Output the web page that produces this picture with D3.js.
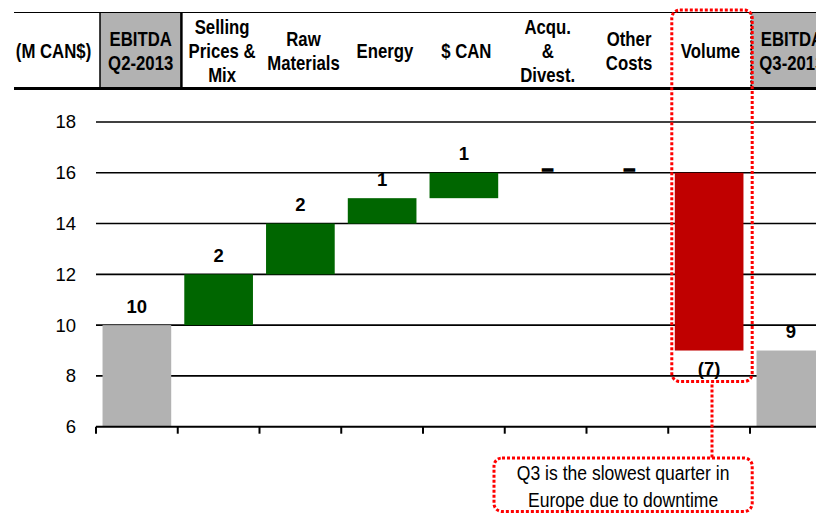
<!DOCTYPE html>
<html>
<head>
<meta charset="utf-8">
<script src="https://cdn.jsdelivr.net/npm/d3@7"></script>
<style>
  html, body { margin: 0; padding: 0; background: #ffffff; }
  svg { display: block; font-family: "Liberation Sans", Arial, sans-serif; }
</style>
</head>
<body>
<svg id="chart" width="816" height="514"></svg>
<script>
// EBITDA bridge, Q2-2013 to Q3-2013 (M CAN$)
const categories = ["q2", "prices", "raw", "energy", "fx", "acq", "other", "volume", "q3"];
const headerLabels = [
  ["EBITDA", "Q2-2013"],
  ["Selling", "Prices &", "Mix"],
  ["Raw", "Materials"],
  ["Energy"],
  ["$ CAN"],
  ["Acqu.", "&", "Divest."],
  ["Other", "Costs"],
  ["Volume"],
  ["EBITDA", "Q3-2013"]
];
const values = [10, 2, 2, 1, 1, 0, 0, -7, 9];
const isTotal = [true, false, false, false, false, false, false, false, true];
const valueLabels = ["10", "2", "2", "1", "1", "\u2013", "\u2013", "(7)", "9"];
const yTicks = [6, 8, 10, 12, 14, 16, 18];
const unitLabel = "(M CAN$)";
const noteLines = ["Q3 is the slowest quarter in", "Europe due to downtime"];

const GREEN = "#006600", RED = "#C00000", GREY = "#B2B2B2", DOT = "#FF0000";

const svg = d3.select("#chart");
const W = 816;

// scales
const y = d3.scaleLinear().domain([6, 18]).range([426.7, 122]);
const x = d3.scaleBand().domain(categories)
  .range([96, 96 + 9 * 81.75]).paddingInner(0.16).paddingOuter(0.08);
const hx = d3.scaleBand().domain(categories).range([100, 100 + 9 * 81.4]);

// waterfall segments
let running = 0;
const bars = categories.map((c, i) => {
  let lo, hi, fill;
  if (isTotal[i]) {
    running = values[i];
    lo = y.domain()[0]; hi = values[i]; fill = GREY;
  } else {
    const start = running;
    running += values[i];
    lo = Math.min(start, running); hi = Math.max(start, running);
    fill = values[i] >= 0 ? GREEN : RED;
  }
  return { c, i, lo, hi, fill, v: values[i], end: running, label: valueLabels[i] };
});

// ---- header band ----
const headerTop = 12.5, headerBottom = 88.5;
const header = svg.append("g");

// grey cells for the two EBITDA totals
[categories[0], categories[8]].forEach(c => {
  header.append("rect")
    .attr("x", hx(c)).attr("y", headerTop)
    .attr("width", hx.bandwidth()).attr("height", headerBottom - headerTop)
    .attr("fill", GREY);
});
header.append("line")
  .attr("x1", 14).attr("x2", W).attr("y1", headerTop).attr("y2", headerTop)
  .attr("stroke", "#000").attr("stroke-width", 1.2);
header.append("line")
  .attr("x1", 14).attr("x2", W).attr("y1", headerBottom).attr("y2", headerBottom)
  .attr("stroke", "#000").attr("stroke-width", 3);
header.append("line")
  .attr("x1", hx(categories[0])).attr("x2", hx(categories[0]))
  .attr("y1", headerTop).attr("y2", headerBottom)
  .attr("stroke", "#000").attr("stroke-width", 1.5);
header.append("line")
  .attr("x1", hx(categories[1])).attr("x2", hx(categories[1]))
  .attr("y1", headerTop).attr("y2", headerBottom)
  .attr("stroke", "#000").attr("stroke-width", 2.5);
header.append("line")
  .attr("x1", hx(categories[8])).attr("x2", hx(categories[8]))
  .attr("y1", headerTop).attr("y2", headerBottom)
  .attr("stroke", "#000").attr("stroke-width", 2).attr("stroke-dasharray", "2 2");

// condensed header / note text
function narrowText(g, cx, baseline, str, size, weight, sx) {
  g.append("text")
    .attr("transform", `translate(${cx},${baseline}) scale(${sx},1)`)
    .attr("text-anchor", "middle")
    .attr("font-size", size).attr("font-weight", weight)
    .attr("fill", "#000")
    .text(str);
}
const headerMid = 50.5, lineGap = 24, capHalf = 7;
narrowText(header, 53.5, headerMid + capHalf, unitLabel, 19.5, "bold", 0.86);
headerLabels.forEach((lines, i) => {
  const cx = hx(categories[i]) + hx.bandwidth() / 2;
  const first = headerMid - (lines.length - 1) * lineGap / 2;
  lines.forEach((ln, k) => {
    narrowText(header, cx, first + k * lineGap + capHalf, ln, 19.5, "bold", 0.86);
  });
});

// ---- plot ----
const plot = svg.append("g");

// gridlines
plot.append("g").selectAll("line")
  .data(yTicks.filter(t => t > y.domain()[0]))
  .join("line")
  .attr("x1", x.range()[0]).attr("x2", W)
  .attr("y1", d => y(d)).attr("y2", d => y(d))
  .attr("stroke", "#000").attr("stroke-width", 1.6);

// y tick labels
const yAxis = d3.axisLeft(y).tickValues(yTicks).tickSize(0).tickPadding(20).tickFormat(d3.format("d"));
const yg = plot.append("g").attr("transform", `translate(${x.range()[0]},0)`).call(yAxis);
yg.select(".domain").remove();
yg.selectAll("text")
  .attr("font-family", "'Liberation Sans', Arial, sans-serif")
  .attr("font-size", 18.5).attr("fill", "#000");

// bars
plot.append("g").selectAll("rect")
  .data(bars.filter(b => b.hi > b.lo))
  .join("rect")
  .attr("x", d => x(d.c)).attr("width", x.bandwidth())
  .attr("y", d => y(d.hi)).attr("height", d => y(d.lo) - y(d.hi))
  .attr("fill", d => d.fill);

// x axis line with ticks on band boundaries
const axisY = y(y.domain()[0]);
plot.append("line")
  .attr("x1", x.range()[0]).attr("x2", W).attr("y1", axisY).attr("y2", axisY)
  .attr("stroke", "#000").attr("stroke-width", 2);
plot.append("g").selectAll("line")
  .data(d3.range(categories.length + 1))
  .join("line")
  .attr("x1", k => x.range()[0] + k * x.step()).attr("x2", k => x.range()[0] + k * x.step())
  .attr("y1", axisY).attr("y2", axisY + 7)
  .attr("stroke", "#000").attr("stroke-width", 2);

// value labels (zero changes shown as a heavy dash sitting on the line)
plot.append("g").selectAll("text")
  .data(bars)
  .join("text")
  .attr("x", d => x(d.c) + x.bandwidth() / 2 + (d.v === 0 ? 2 : 0))
  .attr("y", d => {
    if (d.v === 0) return y(d.end) + 2.5;
    if (d.v < 0) return y(d.lo) + 24;
    return y(d.hi) - 12.5;
  })
  .attr("text-anchor", "middle")
  .attr("font-size", d => d.v === 0 ? 21 : 18.5)
  .attr("font-weight", "bold")
  .attr("fill", "#000")
  .attr("stroke", d => d.v === 0 ? "#000" : "none")
  .attr("stroke-width", 1.3)
  .text(d => d.label);

// ---- callout around the volume column ----
const callout = svg.append("g")
  .attr("fill", "none").attr("stroke", DOT).attr("stroke-width", 3)
  .attr("stroke-dasharray", "3 2");
const vx0 = hx("volume") + 2, vx1 = hx("volume") + hx.bandwidth() + 1;
const vTop = 10, vBottom = y(9) + 31;
callout.append("rect")
  .attr("x", vx0).attr("y", vTop).attr("width", vx1 - vx0).attr("height", vBottom - vTop)
  .attr("rx", 8);
const noteX0 = 494, noteX1 = vx1, noteY0 = 458, noteY1 = 511.5;
const connX = (vx0 + vx1) / 2;
callout.append("line")
  .attr("x1", connX).attr("x2", connX).attr("y1", vBottom + 3).attr("y2", noteY0);
callout.append("rect")
  .attr("x", noteX0).attr("y", noteY0).attr("width", noteX1 - noteX0).attr("height", noteY1 - noteY0)
  .attr("rx", 8);

const note = svg.append("g");
const noteCx = (noteX0 + noteX1) / 2;
noteLines.forEach((ln, k) => {
  narrowText(note, noteCx, 480.3 + k * 26.5, ln, 19.5, "normal", 0.9);
});
</script>
</body>
</html>
